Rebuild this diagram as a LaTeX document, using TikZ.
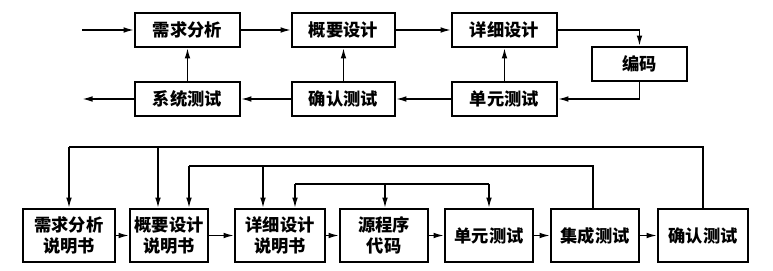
\documentclass[tikz,border=0pt]{standalone}
\usepackage{fontspec}
\newfontfamily\cjk{Noto Sans CJK SC}
\usetikzlibrary{arrows.meta}
\begin{document}
\begin{tikzpicture}[x=0.0264583cm,y=-0.0264583cm,
  box/.style={draw,line width=1.3pt,inner sep=0pt,align=center,font=\cjk\bfseries\fontsize{13}{16}\selectfont},
  ln/.style={line width=1.2pt},
  arr/.style={ln,-{Latex[length=2.8mm,width=1.5mm]}}]
\useasboundingbox (0,0) rectangle (773,271);
% top row
\node[box,minimum width=105*0.0264583cm,minimum height=34*0.0264583cm] (req) at (187.5,30) {需求分析};
\node[box,minimum width=103*0.0264583cm,minimum height=34*0.0264583cm] (out) at (343.5,30) {概要设计};
\node[box,minimum width=105*0.0264583cm,minimum height=34*0.0264583cm] (det) at (504.5,30) {详细设计};
\node[box,minimum width=95*0.0264583cm,minimum height=34*0.0264583cm] (code) at (639.5,64) {编码};
\node[box,minimum width=105*0.0264583cm,minimum height=34*0.0264583cm] (unit) at (504.5,99) {单元测试};
\node[box,minimum width=103*0.0264583cm,minimum height=34*0.0264583cm] (conf) at (343.5,99) {确认测试};
\node[box,minimum width=105*0.0264583cm,minimum height=34*0.0264583cm] (sys) at (187.5,99) {系统测试};
\coordinate (in) at (82,30);
\coordinate (outp) at (82,99);
\draw[arr] (in) -- (req);
\draw[arr] (req) -- (out);
\draw[arr] (out) -- (det);
\draw[arr] (det.east) -| (code.north);
\draw[arr] (code.south) |- (unit.east);
\draw[arr] (unit) -- (conf);
\draw[arr] (conf) -- (sys);
\draw[arr] (sys) -- (outp);
\draw[arr] (sys) -- (req);
\draw[arr] (conf) -- (out);
\draw[arr] (unit) -- (det);
% bottom row
\node[box,minimum width=92*0.0264583cm,minimum height=53*0.0264583cm] (b1) at (69,235.5) {需求分析\\说明书};
\node[box,minimum width=78*0.0264583cm,minimum height=53*0.0264583cm] (b2) at (169,235.5) {概要设计\\说明书};
\node[box,minimum width=90*0.0264583cm,minimum height=53*0.0264583cm] (b3) at (280,235.5) {详细设计\\说明书};
\node[box,minimum width=88*0.0264583cm,minimum height=53*0.0264583cm] (b4) at (384,235.5) {源程序\\代码};
\node[box,minimum width=88*0.0264583cm,minimum height=53*0.0264583cm] (b5) at (489,235.5) {单元测试};
\node[box,minimum width=88*0.0264583cm,minimum height=53*0.0264583cm] (b6) at (595,235.5) {集成测试};
\node[box,minimum width=90*0.0264583cm,minimum height=53*0.0264583cm] (b7) at (703,235.5) {确认测试};
\draw[arr] (b1) -- (b2);
\draw[arr] (b2) -- (b3);
\draw[arr] (b3) -- (b4);
\draw[arr] (b4) -- (b5);
\draw[arr] (b5) -- (b6);
\draw[arr] (b6) -- (b7);
% outer feedback
\coordinate (o1) at (69,147);
\coordinate (o2) at (158,147);
\draw[ln] (b7.north) |- (o1);
\draw[arr] (o1) -- (b1.north);
\draw[arr] (o2) -- (o2 |- b2.north);
% middle feedback
\coordinate (m1) at (189,166);
\coordinate (m2) at (263,166);
\draw[ln] ([xshift=-2*0.0264583cm]b6.north) |- (m1);
\draw[arr] (m1) -- (m1 |- b2.north);
\draw[arr] (m2) -- (m2 |- b3.north);
% inner feedback
\coordinate (i1) at (295,184);
\coordinate (i2) at (385,184);
\coordinate (i3) at (489,184);
\draw[ln] (i1) -- (i3);
\draw[arr] (i1) -- (i1 |- b3.north);
\draw[arr] (i2) -- (i2 |- b4.north);
\draw[arr] (i3) -- (b5.north);
\end{tikzpicture}
\end{document}
